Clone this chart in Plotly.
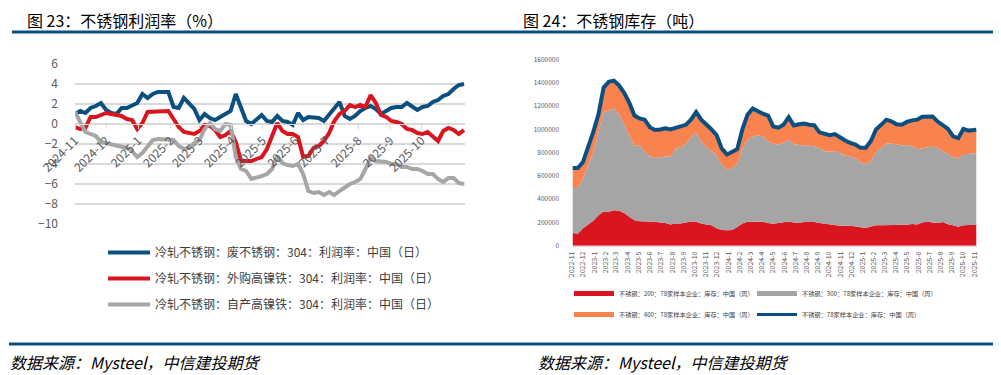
import pandas as pd
import plotly.graph_objects as go

W, H = 1001, 375
def px(x): return x / W
def py(y): return 1 - y / H

# ---------------- Left chart: profit margin (%) ----------------
profit_dates = pd.date_range("2024-11-01", periods=76, freq="5D")
profit_ticks = pd.date_range("2024-11-01", "2025-10-01", freq="MS")
scrap_304 = [1.0, 1.3, 1.1, 1.6, 1.8, 2.1, 1.4, 1.1, 1.0, 1.6, 1.6, 1.9, 2.1, 3.0, 2.6, 3.0,
             3.2, 3.2, 3.2, 1.7, 1.6, 2.6, 2.0, 1.5, 0.4, 1.0, 0.6, 0.4, 0.7, 1.0, 1.3, 3.0,
             1.6, 0.3, 0.0, 0.5, 0.9, 0.3, 0.2, 0.8, 0.3, 0.2, -0.1, 1.1, 0.4, 0.7, 0.6, 0.6,
             0.3, 0.9, 1.6, 2.2, 0.8, 0.5, 0.8, 1.3, 1.6, 1.8, 1.5, 1.0, 1.3, 1.6, 1.7, 1.7,
             2.1, 1.7, 1.4, 1.7, 1.8, 2.2, 2.4, 2.8, 3.0, 3.5, 3.9, 4.0]
bought_npi_304 = [-0.3, -0.5, -0.4, 0.7, 0.7, 0.9, 1.1, 1.0, 0.9, 0.8, 0.5, 0.4, -0.5, 0.1, 1.2, 1.2,
                  1.3, 1.3, 1.3, 0.5, -0.3, -0.8, -0.9, -1.0, -0.7, -0.1, -0.2, -0.6, -1.3, -1.1, -0.7, -1.8,
                  -3.7, -3.7, -3.7, -3.5, -3.3, -2.5, -1.2, 0.1, -0.7, -1.0, -1.0, -1.3, -3.3, -3.2, -2.4, -2.2,
                  -1.7, -0.9, 0.3, 1.0, 1.3, 1.9, 1.7, 1.9, 1.7, 2.9, 2.1, 0.9, 0.7, 0.3, 0.2, 0.0,
                  -0.5, -0.6, -0.9, -1.0, -0.8, -1.3, -1.7, -0.7, -0.4, -0.6, -1.0, -0.6]
own_npi_304 = [1.2, 0.1, -0.8, -1.0, -1.2, -1.8, -1.9, -2.0, -2.1, -2.3, -2.4, -2.7, -3.3, -2.9, -2.2, -1.6,
               -1.5, -1.5, -1.5, -1.6, -2.2, -2.5, -2.4, -1.9, -1.6, -0.5, 0.1, -0.5, -0.7, 0.0, -0.1, -3.3,
               -4.5, -4.7, -5.5, -5.4, -5.2, -5.0, -4.5, -3.2, -3.9, -4.1, -4.2, -4.0, -5.0, -6.7, -6.9, -6.8,
               -7.1, -6.8, -7.1, -6.7, -6.3, -6.0, -5.8, -5.5, -4.5, -3.4, -3.7, -3.7, -3.8, -4.0, -4.0, -4.3,
               -4.3, -4.5, -4.5, -4.7, -5.0, -5.0, -5.5, -5.8, -5.4, -5.4, -5.9, -6.0]
profit_names = ["冷轧不锈钢：废不锈钢：304：利润率：中国（日）",
                "冷轧不锈钢：外购高镍铁：304：利润率：中国（日）",
                "冷轧不锈钢：自产高镍铁：304：利润率：中国（日）"]
profit_colors = ["#0b4f80", "#d9161f", "#a6a6a6"]

# ---------------- Right chart: inventory (t) ----------------
inv_dates = list(pd.date_range("2022-11-03", "2025-10-30", freq="14D")) + [pd.Timestamp("2025-11-06")]
inv_200 = [109000, 103000, 150000, 185000, 215000, 262000, 295000, 292000, 304000, 300000, 282000, 250000,
           218000, 210000, 210000, 209000, 205000, 200000, 195000, 183000, 190000, 190000, 200000, 209000,
           207000, 190000, 183000, 176000, 150000, 136000, 132000, 136000, 160000, 190000, 205000, 207000,
           209000, 205000, 195000, 188000, 195000, 200000, 209000, 200000, 198000, 204000, 204000, 204000,
           195000, 188000, 186000, 180000, 172000, 172000, 172000, 165000, 158000, 152000, 166000, 175000,
           175000, 175000, 175000, 175000, 178000, 181000, 186000, 183000, 200000, 209000, 200000, 196000,
           204000, 185000, 175000, 163000, 175000, 175000, 180000, 181000]
inv_300 = [387000, 393000, 430000, 505000, 585000, 718000, 855000, 868000, 876000, 835000, 763000, 710000,
           642000, 655000, 601000, 559000, 549000, 560000, 573000, 585000, 645000, 660000, 675000, 726000,
           768000, 707000, 667000, 639000, 625000, 561000, 524000, 532000, 545000, 640000, 707000, 733000,
           741000, 735000, 702000, 692000, 674000, 685000, 703000, 675000, 668000, 661000, 656000, 651000,
           645000, 623000, 625000, 635000, 623000, 603000, 593000, 590000, 557000, 548000, 564000, 635000,
           665000, 705000, 705000, 695000, 685000, 685000, 672000, 647000, 640000, 637000, 654000, 644000,
           606000, 605000, 585000, 587000, 613000, 613000, 615000, 607000]
inv_400 = [172000, 172000, 140000, 150000, 180000, 150000, 210000, 250000, 240000, 245000, 270000, 270000,
           260000, 230000, 273000, 252000, 241000, 240000, 242000, 232000, 177000, 176000, 165000, 149000,
           175000, 187000, 195000, 185000, 175000, 138000, 129000, 137000, 125000, 170000, 215000, 240000,
           205000, 195000, 223000, 146000, 146000, 155000, 193000, 160000, 179000, 185000, 180000, 180000,
           135000, 151000, 139000, 145000, 135000, 130000, 120000, 115000, 127000, 142000, 170000, 190000,
           200000, 204000, 190000, 175000, 177000, 199000, 220000, 254000, 270000, 266000, 258000, 228000,
           230000, 215000, 180000, 176000, 217000, 202000, 200000, 210000]
inv_total = [668000, 668000, 720000, 840000, 980000, 1130000, 1360000, 1410000, 1420000, 1380000, 1315000, 1230000,
             1120000, 1095000, 1084000, 1020000, 995000, 1000000, 1010000, 1000000, 1012000, 1026000, 1040000, 1084000,
             1150000, 1084000, 1045000, 1000000, 950000, 835000, 785000, 805000, 830000, 1000000, 1127000, 1180000,
             1155000, 1135000, 1120000, 1026000, 1015000, 1040000, 1105000, 1035000, 1045000, 1050000, 1040000, 1035000,
             975000, 962000, 950000, 960000, 930000, 905000, 885000, 870000, 842000, 842000, 900000, 1000000,
             1040000, 1084000, 1070000, 1045000, 1040000, 1065000, 1078000, 1084000, 1110000, 1112000, 1112000, 1068000,
             1040000, 1005000, 940000, 926000, 1005000, 990000, 995000, 998000]
inv_names = ["不锈钢：200：78家样本企业：库存：中国（周）",
             "不锈钢：300：78家样本企业：库存：中国（周）",
             "不锈钢：400：78家样本企业：库存：中国（周）",
             "不锈钢：78家样本企业：库存：中国（周）"]
inv_colors = ["#d9161f", "#a5a5a5", "#f8834f", "#0b4f80"]

fig = go.Figure()

# left lines
for i, (vals, name, col) in enumerate(zip([scrap_304, bought_npi_304, own_npi_304], profit_names, profit_colors)):
    fig.add_trace(go.Scatter(x=profit_dates, y=vals, mode="lines", name=name,
                             line=dict(color=col, width=4), xaxis="x", yaxis="y",
                             legend="legend", legendgroup=f"g{i}"))

# right stacked areas
for vals, name, col in zip([inv_200, inv_300, inv_400], inv_names[:3], inv_colors[:3]):
    fig.add_trace(go.Scatter(x=inv_dates, y=vals, mode="lines", name=name, stackgroup="inv",
                             line=dict(width=0, color=col), fillcolor=col,
                             xaxis="x2", yaxis="y2", showlegend=False))
fig.add_trace(go.Scatter(x=inv_dates, y=inv_total, mode="lines", name=inv_names[3],
                         line=dict(color=inv_colors[3], width=4), xaxis="x2", yaxis="y2", showlegend=False))
# legend entries for right chart
for j, (name, col) in enumerate(zip(inv_names, inv_colors)):
    fig.add_trace(go.Scatter(x=[None], y=[None], mode="lines", name=name,
                             line=dict(color=col, width=5 if j < 3 else 3), xaxis="x2", yaxis="y2",
                             legend="legend2" if j in (0, 1) else "legend3"))

axis_font = dict(family="Noto Sans CJK SC", size=12, color="#595959")
small_font = dict(family="Noto Sans CJK SC", size=6.5, color="#595959")
legend_small_font = dict(family="Noto Sans CJK SC", size=6.2, color="#404040")

fig.update_layout(
    width=W, height=H, autosize=False,
    margin=dict(l=0, r=0, t=0, b=0, autoexpand=False),
    paper_bgcolor="white", plot_bgcolor="white",
    font=dict(family="Noto Sans CJK SC"),
    xaxis=dict(type="date", domain=[px(67), px(457)], range=["2024-11-01", "2025-11-12"],
               anchor="free", position=py(116), tickmode="array", tickvals=profit_ticks,
               tickformat="%Y-%-m", tickangle=-45, tickfont=axis_font, showgrid=False,
               showline=True, linecolor="#d9d9d9", linewidth=1,
               ticks="outside", ticklen=4, tickcolor="#d9d9d9"),
    yaxis=dict(domain=[py(216), py(56)], range=[-10, 6], dtick=2, anchor="x",
               gridcolor="#d9d9d9", gridwidth=1.5, zeroline=False, showline=False,
               tickfont=axis_font, ticklabelstandoff=16),
    xaxis2=dict(type="date", domain=[px(564), px(969)], range=["2022-11-01", "2025-11-08"],
                anchor="y2", dtick="M1", tick0="2022-11-01", tickformat="%Y-%-m", tickangle=-90,
                tickfont=dict(family="Noto Sans CJK SC", size=7, color="#595959"),
                showgrid=False, showline=True, linecolor="#d9d9d9",
                ticks="", ticklabelstandoff=2),
    yaxis2=dict(domain=[py(237.7), py(51.7)], range=[0, 1600000], dtick=200000, anchor="x2",
                tickformat="d", tickfont=small_font, showgrid=False, zeroline=False, showline=False,
                ticklabelstandoff=12),
    legend=dict(x=px(95), y=py(230), xanchor="left", yanchor="top", orientation="v",
                traceorder="grouped", tracegroupgap=7, itemwidth=42,
                font=dict(family="Noto Sans CJK SC", size=12, color="#404040"),
                bgcolor="rgba(0,0,0,0)"),
    legend2=dict(x=px(561), y=py(271), xanchor="left", yanchor="top", orientation="h",
                 entrywidth=128, entrywidthmode="pixels", itemwidth=40, font=legend_small_font,
                 bgcolor="rgba(0,0,0,0)"),
    legend3=dict(x=px(561), y=py(292), xanchor="left", yanchor="top", orientation="h",
                 entrywidth=128, entrywidthmode="pixels", itemwidth=40, font=legend_small_font,
                 bgcolor="rgba(0,0,0,0)"),
)

title_font = dict(family="Noto Sans CJK SC", size=16, color="#000000")
src_font = dict(family="Noto Sans CJK SC", size=16, color="#000000", style="italic")
fig.add_annotation(text="图 23：不锈钢利润率（%）", x=px(17), y=py(12), xref="paper", yref="paper",
                   xanchor="left", yanchor="middle", showarrow=False, font=title_font)
fig.add_annotation(text="图 24：不锈钢库存（吨）", x=px(513), y=py(12), xref="paper", yref="paper",
                   xanchor="left", yanchor="middle", showarrow=False, font=title_font)
fig.add_annotation(text="数据来源：Mysteel，中信建投期货", x=0, y=py(354), xref="paper", yref="paper",
                   xanchor="left", yanchor="middle", showarrow=False, font=src_font)
fig.add_annotation(text="数据来源：Mysteel，中信建投期货", x=px(528), y=py(354), xref="paper", yref="paper",
                   xanchor="left", yanchor="middle", showarrow=False, font=src_font)

line_col = "#0b4f80"
fig.add_shape(type="line", xref="paper", yref="paper", x0=px(4), x1=px(500), y0=py(24), y1=py(24),
              line=dict(color=line_col, width=3))
fig.add_shape(type="line", xref="paper", yref="paper", x0=px(500), x1=px(997), y0=py(24), y1=py(24),
              line=dict(color=line_col, width=3))
fig.add_shape(type="line", xref="paper", yref="paper", x0=px(1), x1=px(1000), y0=py(336), y1=py(336),
              line=dict(color=line_col, width=3))

fig.write_html("out.html")
